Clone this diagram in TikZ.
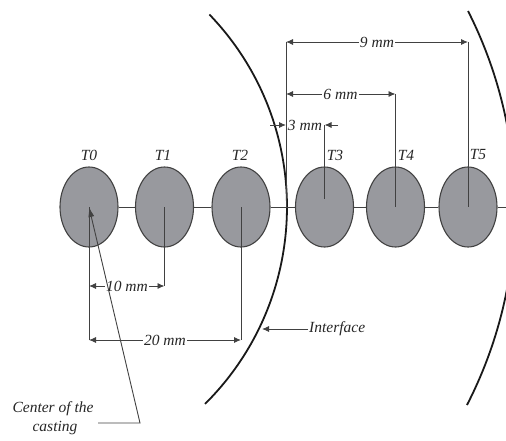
\documentclass[tikz,border=0pt]{standalone}
\usepackage{fontspec}
\setmainfont{Liberation Serif}
\usetikzlibrary{arrows.meta,shapes.geometric}
\definecolor{ballfill}{RGB}{152,153,158}
\definecolor{dimgray}{RGB}{65,65,65}
\tikzset{
  ball/.style={ellipse, draw=dimgray, line width=1.1pt, fill=ballfill, minimum width=58pt, minimum height=80pt, inner sep=0pt},
  dimline/.style={draw=dimgray, line width=0.9pt},
  dimarrow/.style={dimline, -{Latex[length=7pt,width=6pt]}},
  dimboth/.style={dimline, {Latex[length=7pt,width=6pt]}-{Latex[length=7pt,width=6pt]}},
  lbl/.style={font=\fontsize{15.5}{17}\selectfont\itshape, inner sep=1pt, text=black!85},
  dimlbl/.style={lbl, fill=white},
  arcline/.style={draw=black!90, line width=1.8pt}
}
\begin{document}
\begin{tikzpicture}[x=1pt,y=1pt]
\useasboundingbox (0,0) rectangle (506,440);
\clip (0,0) rectangle (506,440);
% arcs
\draw[arcline] (9.4,233) ++(-45.2:277.6) arc[start angle=-45.2, end angle=43.9, radius=277.6];
\draw[arcline] (81.7,233) ++(-27.2:433.2) arc[start angle=-27.2, end angle=26.9, radius=433.2];
% axis line
\coordinate (axisend) at (506,233);
\node[ball] (T0) at (89,233) {};
\node[ball] (T1) at (164.5,233) {};
\node[ball] (T2) at (241,233) {};
\node[ball] (T3) at (324.5,233) {};
\node[ball] (T4) at (395.5,233) {};
\node[ball] (T5) at (468,233) {};
\draw[dimline] (T0.east) -- (T1.west) (T1.east) -- (T2.west) (T2.east) -- (T3.west)
  (T3.east) -- (T4.west) (T4.east) -- (T5.west) (T5.east) -- (axisend);
% labels
\node[lbl] (l0) at (89,285) {T0};
\node[lbl] (l1) at (163,285) {T1};
\node[lbl] (l2) at (240,285) {T2};
\node[lbl] (l3) at (335,285) {T3};
\node[lbl] (l4) at (406,285) {T4};
\node[lbl] (l5) at (478,285) {T5};
% right side dimension coordinates
\coordinate (r9) at (286,398);
\coordinate (r6) at (286,346);
\coordinate (r3) at (286,315);
\coordinate (rb) at (286,233);
\coordinate (t5top) at (468,398);
\coordinate (t4top) at (395.5,346);
\coordinate (t3top) at (324.5,315);
\coordinate (t3bot) at (324.5,241);
\draw[dimline] (r9) -- (rb);
\draw[dimline] (t5top) -- (T5.center);
\draw[dimline] (t4top) -- (T4.center);
\draw[dimline] (t3top) -- (t3bot);
\draw[dimboth] (r9) -- (t5top);
\node[dimlbl] (d9) at (377,398) {9 mm};
\draw[dimboth] (r6) -- (t4top);
\node[dimlbl] (d6) at (340.5,346) {6 mm};
\coordinate (a3l) at (270,315);
\coordinate (a3r) at (338,315);
\node[lbl] (d3) at (305,315) {3 mm};
\draw[dimarrow] (a3l) -- (r3);
\draw[dimarrow] (a3r) -- (t3top);
% left side dimensions
\coordinate (b0) at (89,100);
\coordinate (b0m) at (89,154);
\coordinate (b1) at (164.5,154);
\coordinate (b2) at (241,100);
\draw[dimline] (T0.center) -- (b0);
\draw[dimline] (T1.center) -- (b1);
\draw[dimline] (T2.center) -- (b2);
\draw[dimboth] (b0m) -- (b1);
\node[dimlbl] (d10) at (127,154) {10 mm};
\draw[dimboth] (b0) -- (b2);
\node[dimlbl] (d20) at (165,100) {20 mm};
% interface
\node[lbl, anchor=west] (iface) at (308,111) {Interface};
\coordinate (ifacetip) at (262,111);
\draw[dimarrow] (iface.west) -- (ifacetip);
% center of casting
\node[lbl] (c1) at (53,31) {Center of the};
\node[lbl] (c2) at (55,12) {casting};
\coordinate (ld1) at (98,17);
\coordinate (ld2) at (140,17);
\draw[dimline, -{Latex[length=10pt,width=6pt]}] (ld1) -- (ld2) -- (T0.center);
\end{tikzpicture}
\end{document}
